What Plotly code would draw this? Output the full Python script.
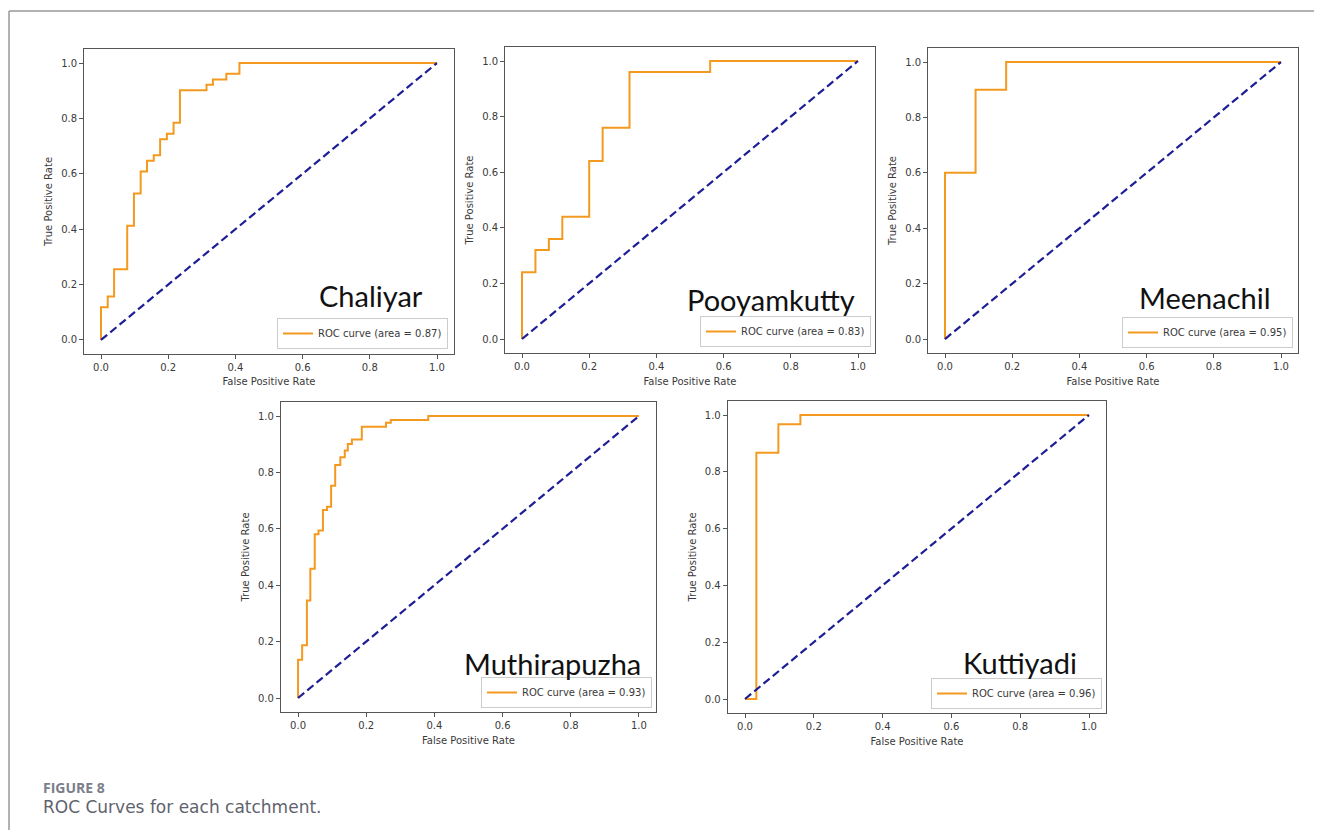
import plotly.graph_objects as go

# ---------------- data ----------------
catchments = ["Chaliyar", "Pooyamkutty", "Meenachil", "Muthirapuzha", "Kuttiyadi"]
auc_values = [0.87, 0.83, 0.95, 0.93, 0.96]

fpr_chaliyar = [0, 0, 0.020, 0.039, 0.078, 0.098, 0.118, 0.137, 0.157, 0.176, 0.196,
                0.216, 0.235, 0.314, 0.333, 0.373, 0.412, 1.0]
tpr_chaliyar = [0, 0.118, 0.157, 0.255, 0.412, 0.529, 0.608, 0.647, 0.667, 0.725, 0.745,
                0.784, 0.902, 0.922, 0.941, 0.961, 1.0, 1.0]

fpr_pooyamkutty = [0, 0, 0.04, 0.08, 0.12, 0.20, 0.24, 0.32, 0.56, 1.0]
tpr_pooyamkutty = [0, 0.24, 0.32, 0.36, 0.44, 0.64, 0.76, 0.96, 1.0, 1.0]

fpr_meenachil = [0, 0, 0.091, 0.182, 1.0]
tpr_meenachil = [0, 0.6, 0.9, 1.0, 1.0]

fpr_muthirapuzha = [0, 0, 0.012, 0.026, 0.036, 0.049, 0.060, 0.073, 0.085, 0.097, 0.109,
                    0.124, 0.137, 0.146, 0.158, 0.187, 0.258, 0.272, 0.382, 1.0]
tpr_muthirapuzha = [0, 0.136, 0.187, 0.346, 0.458, 0.581, 0.594, 0.667, 0.678, 0.753, 0.826,
                    0.854, 0.878, 0.901, 0.917, 0.962, 0.976, 0.986, 1.0, 1.0]

fpr_kuttiyadi = [0, 0.033, 0.097, 0.161, 1.0]
tpr_kuttiyadi = [0, 0.867, 0.967, 1.0, 1.0]

chance_line = [0, 1]
tick_values = [0, 0.2, 0.4, 0.6, 0.8, 1.0]
tick_labels = ["0.0", "0.2", "0.4", "0.6", "0.8", "1.0"]

fprs = [fpr_chaliyar, fpr_pooyamkutty, fpr_meenachil, fpr_muthirapuzha, fpr_kuttiyadi]
tprs = [tpr_chaliyar, tpr_pooyamkutty, tpr_meenachil, tpr_muthirapuzha, tpr_kuttiyadi]

# ---------------- layout ----------------
# The page body adds an 8px margin, so the figure is placed 8px in and sized to fit.
OFF = 8
W, H = 1322 - 2 * OFF, 838 - 2 * OFF


def px_x(p):
    return (p - OFF) / W


def px_y(p):
    return 1 - (p - OFF) / H


boxes = [  # left, right, top, bottom in page px
    (84.2, 453.8, 49.2, 353.8),
    (505.2, 874.8, 47.1, 352.9),
    (928.2, 1297.8, 48.2, 352.9),
    (281.0, 656.0, 401.9, 712.1),
    (727.8, 1106.2, 400.8, 713.2),
]
name_pos = [(0.776, 0.193), (0.719, 0.173), (0.749, 0.183), (0.723, 0.158), (0.772, 0.161)]
legend_pos = [(448, 349), (871, 347), (1293, 348), (652, 708), (1102, 709)]

ORANGE = "#F39A1E"
NAVY = "#1E1E96"
AX = "#555555"
TXT = "#3a3a3a"

fig = go.Figure()
layout_updates = {}
annotations = []

for i in range(5):
    k = "" if i == 0 else str(i + 1)
    xa, ya = "x" + k, "y" + k
    lg = "legend" + k
    fig.add_trace(go.Scatter(
        x=fprs[i], y=tprs[i], mode="lines", line=dict(color=ORANGE, width=2, shape="hv"),
        name=f"ROC curve (area = {auc_values[i]:.2f})", xaxis=xa, yaxis=ya,
        legend=lg, showlegend=True, hoverinfo="skip"))
    fig.add_trace(go.Scatter(
        x=chance_line, y=chance_line, mode="lines",
        line=dict(color=NAVY, width=2.2, dash="8px,4px"),
        xaxis=xa, yaxis=ya, showlegend=False, hoverinfo="skip"))

    l, r, t, b = boxes[i]
    common = dict(range=[-0.05, 1.05], showgrid=False, zeroline=False, showline=True,
                  mirror=True, linecolor=AX, linewidth=1.2, ticks="outside", ticklen=4,
                  tickcolor=AX, tickvals=tick_values, ticktext=tick_labels,
                  tickfont=dict(family="DejaVu Sans", size=10, color=TXT))
    layout_updates["xaxis" + k] = dict(
        common, domain=[px_x(l), px_x(r)], anchor=ya,
        title=dict(text="False Positive Rate", standoff=6,
                   font=dict(family="DejaVu Sans", size=10, color=TXT)))
    layout_updates["yaxis" + k] = dict(
        common, domain=[px_y(b), px_y(t)], anchor=xa,
        title=dict(text="True Positive Rate", standoff=6,
                   font=dict(family="DejaVu Sans", size=10, color=TXT)))
    lx, ly = legend_pos[i]
    layout_updates[lg] = dict(
        x=px_x(lx), y=px_y(ly), xanchor="right", yanchor="bottom", xref="paper", yref="paper",
        bgcolor="white", bordercolor="#cccccc", borderwidth=1, itemwidth=30,
        font=dict(family="DejaVu Sans", size=10, color=TXT), tracegroupgap=0)

    nx, ny = name_pos[i]
    annotations.append(dict(
        text=catchments[i], xref=xa + " domain", yref=ya + " domain", x=nx, y=ny,
        xanchor="center", yanchor="middle", showarrow=False,
        font=dict(family="Lato", size=29, color="#111111")))

annotations.append(dict(text="<b>FIGURE 8</b>", xref="paper", yref="paper",
                        x=px_x(41), y=px_y(787), xanchor="left", yanchor="middle",
                        showarrow=False,
                        font=dict(family="Open Sans", size=14, color="#7a7e8a")))
annotations.append(dict(text="ROC Curves for each catchment.", xref="paper", yref="paper",
                        x=px_x(41), y=px_y(807), xanchor="left", yanchor="middle",
                        showarrow=False,
                        font=dict(family="DejaVu Sans", size=17, color="#5f636e")))

shapes = [
    dict(type="line", xref="paper", yref="paper", x0=px_x(9), x1=1, y0=px_y(11), y1=px_y(11),
         line=dict(color="#999999", width=1.5)),
    dict(type="line", xref="paper", yref="paper", x0=px_x(9), x1=px_x(9), y0=0, y1=px_y(11),
         line=dict(color="#999999", width=1.5)),
]

fig.update_layout(
    width=W, height=H, margin=dict(l=0, r=0, t=0, b=0),
    paper_bgcolor="white", plot_bgcolor="white",
    annotations=annotations, shapes=shapes, **layout_updates)

fig.write_html("out.html")
